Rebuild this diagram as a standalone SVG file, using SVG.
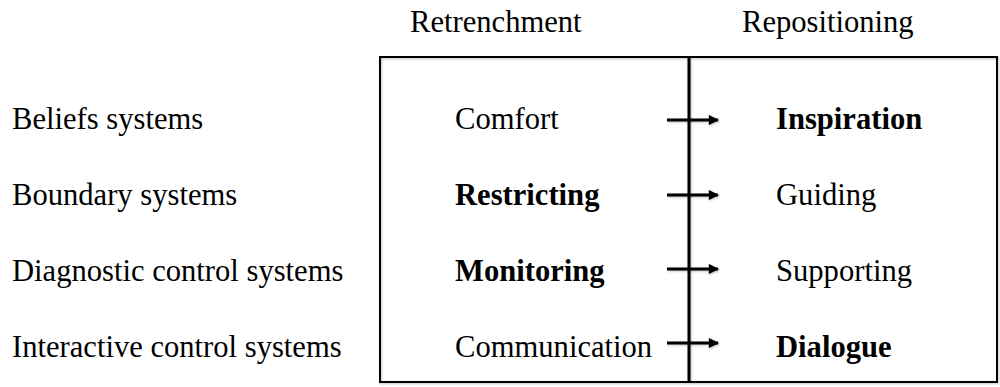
<svg xmlns="http://www.w3.org/2000/svg" width="1000" height="387" viewBox="0 0 1000 387">
  <style>
    text { font-family: "Liberation Serif", "Times New Roman", serif; font-size: 30.6px; fill: #000; }
    .b { font-weight: bold; }
    .frame { fill: none; stroke: #000; stroke-width: 2; }
    .divider { stroke: #000; stroke-width: 3; }
    .arrow { stroke: #000; stroke-width: 3; fill: none; marker-end: url(#head); }
  </style>
  <defs>
    <marker id="head" viewBox="0 0 10 10" refX="9" refY="5" markerWidth="4" markerHeight="3.4" orient="auto" markerUnits="strokeWidth">
      <path d="M0,0 L10,5 L0,10 z" fill="#000"/>
    </marker>
    <filter id="soft" x="-5%" y="-5%" width="110%" height="110%">
      <feDropShadow dx="1" dy="1" stdDeviation="1" flood-color="#000" flood-opacity="0.25"/>
    </filter>
  </defs>
  <rect width="1000" height="387" fill="#fff"/>

  <!-- column headings -->
  <g id="header-retrenchment"><text x="410" y="32">Retrenchment</text></g>
  <g id="header-repositioning"><text x="742" y="32">Repositioning</text></g>

  <!-- frame and centre divider -->
  <g id="frame" filter="url(#soft)">
    <rect class="frame" x="380" y="57" width="617" height="325"/>
    <line class="divider" x1="689" y1="57" x2="689" y2="383"/>
  </g>

  <!-- row labels -->
  <g id="label-beliefs"><text x="12" y="129">Beliefs systems</text></g>
  <g id="label-boundary"><text x="12" y="205">Boundary systems</text></g>
  <g id="label-diagnostic"><text x="12" y="281">Diagnostic control systems</text></g>
  <g id="label-interactive"><text x="12" y="357">Interactive control systems</text></g>

  <!-- retrenchment column -->
  <g id="node-comfort"><text x="455" y="129">Comfort</text></g>
  <g id="node-restricting"><text class="b" x="455" y="205">Restricting</text></g>
  <g id="node-monitoring"><text class="b" x="455" y="281">Monitoring</text></g>
  <g id="node-communication"><text x="455" y="357">Communication</text></g>

  <!-- repositioning column -->
  <g id="node-inspiration"><text class="b" x="776" y="129">Inspiration</text></g>
  <g id="node-guiding"><text x="776" y="205">Guiding</text></g>
  <g id="node-supporting"><text x="776" y="281">Supporting</text></g>
  <g id="node-dialogue"><text class="b" x="776" y="357">Dialogue</text></g>

  <!-- connectors -->
  <g id="connectors" filter="url(#soft)">
    <line class="arrow" x1="667" y1="120" x2="718" y2="120"/>
    <line class="arrow" x1="667" y1="195" x2="718" y2="195"/>
    <line class="arrow" x1="667" y1="269" x2="718" y2="269"/>
    <line class="arrow" x1="667" y1="343" x2="718" y2="343"/>
  </g>
</svg>
